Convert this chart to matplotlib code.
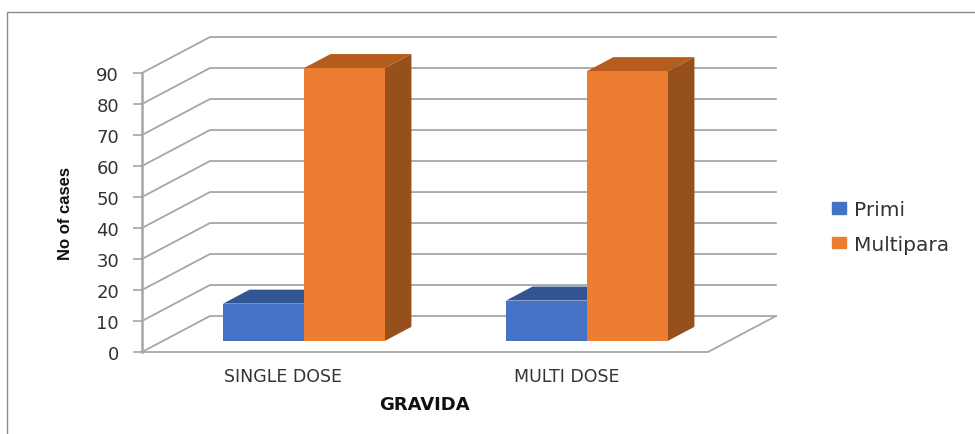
import matplotlib
matplotlib.use("Agg")
import matplotlib.pyplot as plt
from matplotlib.lines import Line2D
from matplotlib.patches import Patch

categories = ["SINGLE DOSE", "MULTI DOSE"]
primi = [12, 13]
multipara = [88, 87]
yticks = [0, 10, 20, 30, 40, 50, 60, 70, 80, 90]

GRID = "#a6a6a6"
TEXT = "#333333"

# how far the back wall sits from the front plane, in data units
DEPTH_X = 0.24
DEPTH_Y = 11.6
BAR_W = 0.286
Z0, Z1 = 0.31, 0.70


def proj(x, y, z):
    return x + z * DEPTH_X, y + z * DEPTH_Y


def draw_bar(ax, left, value, front, top, side):
    x1 = left + BAR_W
    ax.bar(left + Z0 * DEPTH_X, value, BAR_W, bottom=Z0 * DEPTH_Y, align="edge",
           color=front, zorder=4, clip_on=False)
    # top face
    pts = [proj(left, value, Z0), proj(x1, value, Z0), proj(x1, value, Z1), proj(left, value, Z1)]
    ax.fill(*zip(*pts), color=top, lw=0, zorder=3, clip_on=False)
    # side face
    pts = [proj(x1, 0, Z0), proj(x1, value, Z0), proj(x1, value, Z1), proj(x1, 0, Z1)]
    ax.fill(*zip(*pts), color=side, lw=0, zorder=3, clip_on=False)


W, H = 975, 435
fig = plt.figure(figsize=(9.75, 4.35), dpi=100)
# axes is the front plane of the 3d box
ax = fig.add_axes([142 / W, 1 - 353 / H, 566 / W, 279 / H])
ax.set_xlim(0, 2)
ax.set_ylim(0, 90)

for t in yticks:
    xs, ys = zip(proj(0, t, 0), proj(0, t, 1), proj(2, t, 1))
    ax.plot(xs, ys, color=GRID, lw=1.3, zorder=1, clip_on=False)
xs, ys = zip(proj(0, 0, 0), proj(2, 0, 0), proj(2, 0, 1))
ax.plot(xs, ys, color=GRID, lw=1.3, zorder=1, clip_on=False)

for i in range(len(categories)):
    left = i + 0.5 - BAR_W - 0.002
    draw_bar(ax, left, primi[i], "#4472C4", "#345594", "#2F5597")
    draw_bar(ax, left + BAR_W, multipara[i], "#ED7D31", "#B55D1F", "#95501C")

for s in ["top", "right", "bottom"]:
    ax.spines[s].set_visible(False)
ax.spines["left"].set_color(GRID)
ax.spines["left"].set_linewidth(1.8)
ax.patch.set_visible(False)

ax.set_yticks(yticks)
ax.tick_params(axis="y", length=6.5, width=1.2, color=GRID, pad=10, labelsize=13, labelcolor=TEXT)
ax.set_xticks([0.5, 1.5])
ax.set_xticklabels(categories)
ax.tick_params(axis="x", length=0, pad=11, labelsize=12.5, labelcolor=TEXT)

fig.text(424 / W, 1 - 405 / H, "GRAVIDA", fontsize=13, fontweight="bold", color="#111111",
         ha="center", va="center")
fig.text(66 / W, 1 - 213 / H, "No of cases", fontsize=12, fontweight="bold", color="#111111",
         family="Liberation Sans", rotation=90, ha="center", va="center")

handles = [Patch(color="#4472C4"), Patch(color="#ED7D31")]
fig.legend(handles, ["Primi", "Multipara"], loc="upper left", bbox_to_anchor=(832 / W, 1 - 201 / H),
           frameon=False, fontsize=14.5, labelcolor=TEXT, handlelength=0.7, handleheight=0.5,
           handletextpad=0.4, labelspacing=0.77, borderpad=0, borderaxespad=0)

# chart frame, only left and top edges show in the crop
fig.add_artist(Line2D([7 / W, 7 / W, 1], [0, 1 - 12.5 / H, 1 - 12.5 / H], color="#8c8c8c", lw=1.0))

fig.savefig("out.png", dpi=100)
